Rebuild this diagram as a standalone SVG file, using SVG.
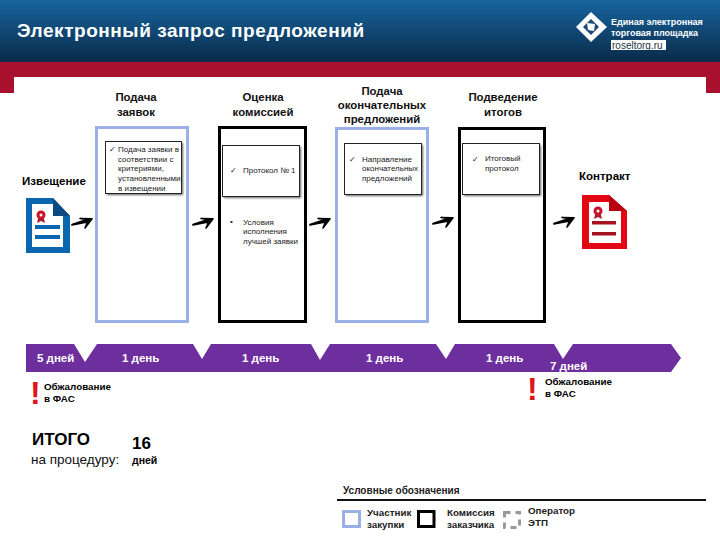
<svg xmlns="http://www.w3.org/2000/svg" xmlns:xlink="http://www.w3.org/1999/xlink" width="720" height="540" viewBox="0 0 720 540">
<style>
text{font-family:"Liberation Sans",Arial,sans-serif;fill:#000}
.h{font-size:11.400px;font-weight:700;text-anchor:middle;fill:#111}
.c{font-size:8px;fill:#222}
.d{font-size:11.500px;font-weight:700;fill:#fff}
.o{font-size:9.800px;font-weight:700}
.l{font-size:9.800px;font-weight:700;fill:#222}
.blue{fill:#fff;stroke:#9ab0e6;stroke-width:3}
.black{fill:#fff;stroke:#000;stroke-width:3}
.card{fill:#fff;stroke:#222;stroke-width:1}
.sh{fill:#444;opacity:.85;filter:url(#b)}
.arr{fill:#000;stroke:#000;stroke-width:1.600;stroke-linejoin:round}
.ex{font-size:32px;font-weight:700;fill:#e0141c}
</style>
<defs>
<linearGradient id="hg" x1="0" y1="0" x2="0" y2="1"><stop offset="0" stop-color="#17659f"/><stop offset="1" stop-color="#0a2a49"/></linearGradient>
<filter id="b" x="-10%" y="-10%" width="120%" height="120%"><feGaussianBlur stdDeviation="0.8"/></filter>
<g id="ar"><path class="arr" d="M72 224.500 L87 219.500 L80 218.500 L92 218.800 L85 228 L87.500 222 L72 225Z"/></g>
</defs>
<rect width="720" height="540" fill="#fff"/>
<g id="header">
<rect width="720" height="62" fill="url(#hg)"/>
<path d="M0 62H720V93H706V77H14V93H0Z" fill="#a8102d"/>
<text x="17" y="37" style="font-size:19px;font-weight:700;letter-spacing:.55px;fill:#fff">Электронный запрос предложений</text>
</g>
<g id="logo">
<path d="M591 12L607 27L591 42L576 27Z" fill="#fff"/>
<path d="M591 19L599 27L591 35L583 27Z" fill="#1a4a75"/>
<path d="M587 23L595 24L594 31L588 30Z" fill="#fff"/>
<text x="611" y="25" style="font-size:9px;font-weight:700;fill:#fff">Единая электронная</text>
<text x="611" y="36" style="font-size:9px;font-weight:700;fill:#fff">торговая площадка</text>
<rect x="611" y="40" width="55" height="10" fill="#fff"/>
<text x="612" y="48.500" style="font-size:10px;fill:#234">roseltorg.ru</text>
</g>
<g id="titles">
<text class="h" x="136" y="101">Подача</text><text class="h" x="136" y="116">заявок</text>
<text class="h" x="263" y="101">Оценка</text><text class="h" x="263" y="116">комиссией</text>
<text class="h" x="382" y="95">Подача</text><text class="h" x="382" y="109">окончательных</text><text class="h" x="382" y="123">предложений</text>
<text class="h" x="503" y="101">Подведение</text><text class="h" x="503" y="116">итогов</text>
</g>
<g id="notice">
<text x="22" y="185" style="font-size:11.500px;font-weight:700">Извещение</text>
<path d="M26 198H53L70 216V253H26Z" fill="#0b66b0"/>
<path d="M32 204H53V216H63V247H32Z" fill="#fff"/>
<path d="M53 198L70 216H53Z" fill="#0a4a80"/>
<rect x="35" y="225" width="25" height="4" fill="#0b66b0"/>
<rect x="35" y="235" width="25" height="4" fill="#0b66b0"/>
<path d="M38 219L37 223L41 221L45 223L44 219Z" fill="#a81a2a"/>
<circle cx="41" cy="215" r="4.500" fill="#c8142a"/><circle cx="41" cy="215" r="1.500" fill="#fff"/>
</g>
<g id="stage1">
<rect class="blue" x="96.500" y="127.500" width="91" height="194"/>
<rect class="sh" x="107" y="143" width="76" height="52"/>
<rect class="card" x="105.500" y="141.500" width="76" height="52"/>
<text class="c" x="109" y="152">✓</text>
<text class="c" x="118" y="152">Подача заявки в</text>
<text class="c" x="118" y="161.500">соответствии с</text>
<text class="c" x="118" y="171">критериями,</text>
<text class="c" x="118" y="181">установленными</text>
<text class="c" x="118" y="190.500">в извещении</text>
</g>
<g id="stage2">
<rect class="black" x="219.500" y="127.500" width="86" height="194"/>
<rect class="sh" x="224" y="147" width="77" height="51"/>
<rect class="card" x="222.500" y="145.500" width="77" height="51"/>
<text class="c" x="230" y="172.500">✓</text>
<text class="c" x="243" y="172.500">Протокол № 1</text>
<text class="c" x="230" y="224">•</text>
<text class="c" x="243" y="224.500">Условия</text>
<text class="c" x="243" y="234">исполнения</text>
<text class="c" x="243" y="244">лучшей заявки</text>
</g>
<g id="stage3">
<rect class="blue" x="336.500" y="128.500" width="91" height="193"/>
<rect class="sh" x="346" y="145" width="77" height="51"/>
<rect class="card" x="344.500" y="143.500" width="77" height="51"/>
<text class="c" x="349" y="162">✓</text>
<text class="c" x="362" y="162">Направление</text>
<text class="c" x="362" y="171">окончательных</text>
<text class="c" x="362" y="181">предложений</text>
</g>
<g id="stage4">
<rect class="black" x="459.500" y="128.500" width="85" height="193"/>
<rect class="sh" x="464" y="145" width="77" height="51"/>
<rect class="card" x="462.500" y="143.500" width="77" height="51"/>
<text class="c" x="472" y="161.500">✓</text>
<text class="c" x="485" y="161">Итоговый</text>
<text class="c" x="485" y="171">протокол</text>
</g>
<g id="contract">
<text x="579" y="180" style="font-size:11.500px;font-weight:700">Контракт</text>
<path d="M582 195H609L627 211V249H582Z" fill="#e30613"/>
<path d="M589 202H609V211H621V243H589Z" fill="#fff"/>
<path d="M609 195L627 211H609Z" fill="#b8000f"/>
<rect x="592" y="221" width="24" height="3.500" fill="#a61220"/>
<rect x="592" y="232" width="24" height="3.500" fill="#a61220"/>
<path d="M595 215L594 219L598 217L602 219L601 215Z" fill="#a81a2a"/>
<circle cx="598" cy="211" r="4.500" fill="#c8142a"/><circle cx="598" cy="211" r="1.500" fill="#fff"/>
</g>
<g id="connectors">
<use xlink:href="#ar" href="#ar"/>
<use xlink:href="#ar" href="#ar" x="121"/>
<use xlink:href="#ar" href="#ar" x="238"/>
<use xlink:href="#ar" href="#ar" x="361" y="-1"/>
<use xlink:href="#ar" href="#ar" x="482" y="-1"/>
</g>
<g id="timeline">
<path d="M26 344H74L85 362L97 344H193L202 359L211 344H311L320 360L330 344H436L446 359L455 344H554L563 359L573 344H671L681 358L671 372H26Z" fill="#6e2f9e"/>
<text class="d" x="37" y="362">5 дней</text>
<text class="d" x="122" y="362">1 день</text>
<text class="d" x="242" y="362">1 день</text>
<text class="d" x="366" y="362">1 день</text>
<text class="d" x="486" y="362">1 день</text>
<text class="d" x="550" y="370">7 дней</text>
</g>
<g id="appeal1">
<text class="ex" x="30" y="404">!</text>
<text class="o" x="44" y="390">Обжалование</text>
<text class="o" x="44" y="402">в ФАС</text>
</g>
<g id="appeal2">
<text class="ex" x="527" y="400">!</text>
<text class="o" x="545" y="385">Обжалование</text>
<text class="o" x="545" y="397">в ФАС</text>
</g>
<g id="total">
<text x="32" y="445" style="font-size:17px;font-weight:700">ИТОГО</text>
<text x="31" y="464" style="font-size:13.500px;fill:#111">на процедуру:</text>
<text x="132" y="449" style="font-size:17px;font-weight:700">16</text>
<text x="132" y="464" style="font-size:10.500px;font-weight:700">дней</text>
</g>
<g id="legend">
<text class="l" x="343" y="494" style="font-size:10px">Условные обозначения</text>
<rect x="337" y="499" width="369" height="2" fill="#111"/>
<rect x="343.500" y="511.500" width="16" height="15" fill="#fff" stroke="#9ab0e6" stroke-width="3"/>
<text class="l" x="367" y="516">Участник</text><text class="l" x="367" y="528">закупки</text>
<rect x="418.500" y="511.500" width="15.500" height="15" fill="#fff" stroke="#000" stroke-width="3"/>
<text class="l" x="447" y="516">Комиссия</text><text class="l" x="447" y="528">заказчика</text>
<rect x="504.500" y="512.500" width="15" height="15" fill="none" stroke="#999" stroke-width="3" stroke-dasharray="6 5"/>
<text class="l" x="528" y="514">Оператор</text><text class="l" x="528" y="526">ЭТП</text>
</g>
</svg>
